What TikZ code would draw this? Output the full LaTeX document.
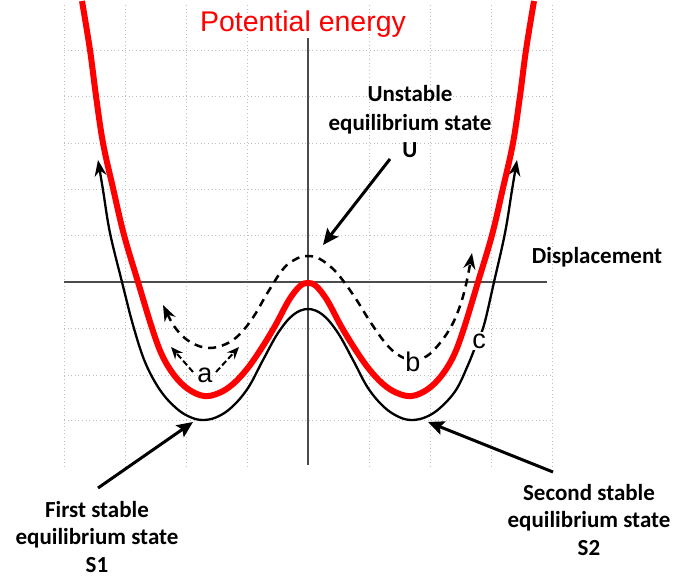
\documentclass[tikz,border=0pt]{standalone}
\usepackage{fontspec}
\setmainfont{Carlito}
\newfontfamily\arialf{Liberation Sans}
\usetikzlibrary{arrows.meta}
\begin{document}
\begin{tikzpicture}[x=1pt,y=-1pt,
  gridline/.style={black!25, line width=0.8pt, dash pattern=on 0.8pt off 2.8pt},
  axisline/.style={black!70, line width=1.3pt},
  redcurve/.style={red, line width=6pt},
  solidcurve/.style={black, line width=2.3pt, {Stealth[length=16pt,width=12pt]}-{Stealth[length=16pt,width=12pt]}},
  dashcurve/.style={black, line width=2.5pt, dash pattern=on 8pt off 6pt, {Stealth[length=16pt,width=12pt]}-{Stealth[length=16pt,width=12pt]}},
  smallarrow/.style={black, line width=2pt, dash pattern=on 6pt off 3pt, -{Stealth[length=12pt,width=10pt]}},
  bigarrow/.style={black, line width=3pt, -{Stealth[length=16pt,width=14pt,inset=3pt]}},
  lbl/.style={font=\bfseries\fontsize{23}{28}\selectfont, inner sep=0pt, anchor=base},
  letter/.style={font=\arialf\fontsize{27}{30}\selectfont, inner sep=0pt},
]
\path[use as bounding box, fill=white] (0,0) rectangle (674,578);
% grid
\foreach \gx in {64,125,186,247,369,430,491,552}
  \draw[gridline] (\gx,5) -- (\gx,467);
\foreach \gy in {50,96,143,189,235,328,375,420}
  \draw[gridline] (64,\gy) -- (552,\gy);
% axes
\draw[axisline] (64,282) -- (547,282);
\draw[axisline] (308,38) -- (308,465);
% dashed curve (a and b motion)
\draw[dashcurve] plot[smooth, tension=0.6] coordinates {
  (163,305) (177,330) (192,343) (209,348) (226,344) (240,334)
  (254,316) (268,292) (284,268) (298,258) (308,256) (320,259) (336,272)
  (354,296) (371,323) (387,345) (400,356) (413,360) (427,356) (440,343)
  (452,325) (461,303) (467,280) (472,253)};
\node[letter, fill=white, inner sep=1pt] (b) at (413,362) {b};
% solid black curve (c motion)
\draw[solidcurve] plot[smooth, tension=0.6] coordinates {
  (98,160) (103,190) (110,233) (122,282) (133,325) (145,362) (160,390)
  (176,408) (190,417) (203,420) (217,417) (232,407) (248,388) (263,360)
  (278,333) (293,315) (308,309) (323,315) (338,333) (353,360) (368,388)
  (384,407) (399,417) (412,420) (426,417) (440,408) (456,390) (468,365)
  (476,345) (484,325) (494,282) (505,233) (512,190) (517,160)};
\node[letter, fill=white, inner sep=2pt] (c) at (479,341) {c};
% red potential curve
\draw[redcurve] plot[smooth, tension=0.6] coordinates {
  (82,1) (90,50) (96,96) (103,143) (113,188) (124,235) (138,282) (152,328)
  (162,355) (174,375) (188,389) (204,396) (219,393) (233,384) (247,369)
  (261,349) (275,326) (289,300) (300,286) (308,283) (316,286) (327,300)
  (341,326) (355,349) (369,369) (383,384) (397,393) (412,396) (428,389)
  (442,375) (454,355) (464,328) (478,282) (492,235) (503,188) (513,143)
  (520,96) (526,50) (534,1)};
% label a with its two small arrows
\node[letter] (a) at (205,375) {a};
\coordinate (a1tail) at (193,372);
\coordinate (a1tip) at (171,347);
\coordinate (a2tail) at (216,372);
\coordinate (a2tip) at (239,347);
\draw[smallarrow] (a1tail) -- (a1tip);
\draw[smallarrow] (a2tail) -- (a2tip);
% title
\node[font=\arialf\fontsize{28.5}{34}\selectfont, text=red, inner sep=0pt, anchor=base] (title) at (303,32) {Potential energy};
% axis label
\node[lbl] (disp) at (597,263) {Displacement};
% unstable state label
\node[lbl] (u1) at (410,101) {Unstable};
\node[lbl] (u2) at (410,130) {equilibrium state};
\node[lbl] (u3) at (410,157) {U};
% first stable label
\node[lbl] (s11) at (97,517) {First stable};
\node[lbl] (s12) at (97,544) {equilibrium state};
\node[lbl] (s13) at (97,572) {S1};
% second stable label
\node[lbl] (s21) at (589,500) {Second stable};
\node[lbl] (s22) at (589,527) {equilibrium state};
\node[lbl] (s23) at (589,555) {S2};
% pointer arrows
\coordinate (utail) at (390,159);
\coordinate (utip) at (323,245);
\coordinate (s1tail) at (98,488);
\coordinate (s1tip) at (193,422);
\coordinate (s2tail) at (553,472);
\coordinate (s2tip) at (428,422);
\draw[bigarrow] (utail) -- (utip);
\draw[bigarrow] (s1tail) -- (s1tip);
\draw[bigarrow] (s2tail) -- (s2tip);
\end{tikzpicture}
\end{document}
